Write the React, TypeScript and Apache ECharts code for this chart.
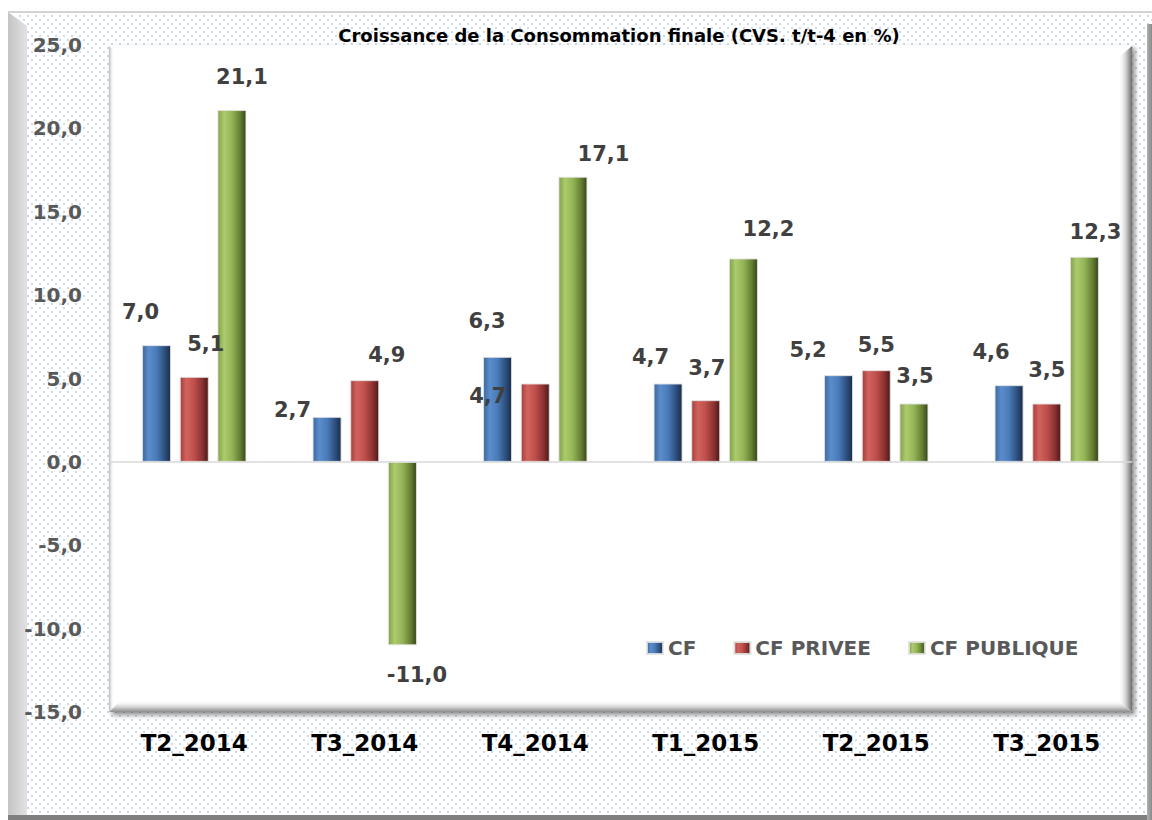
import React, { useEffect, useRef } from "react";
import * as echarts from "echarts";

const categories = ["T2_2014", "T3_2014", "T4_2014", "T1_2015", "T2_2015", "T3_2015"];
const seriesNames = ["CF", "CF PRIVEE", "CF PUBLIQUE"];
const cfValues = [7.0, 2.7, 6.3, 4.7, 5.2, 4.6];
const cfPriveeValues = [5.1, 4.9, 4.7, 3.7, 5.5, 3.5];
const cfPubliqueValues = [21.1, -11.0, 17.1, 12.2, 3.5, 12.3];
const yMin = -15;
const yMax = 25;
const yStep = 5;

// label placement tweaks (style only, in px)
const cfLabelShift = [[-16, -23], [-34.5, 3.5], [-10.5, -25], [-17.5, -15.6], [-30.5, -15], [-18, -23]];
const priveeLabelShift = [[11.5, -22], [22, -15], [-47.5, 23.4], [1, -22], [0, -15], [0, -22.6]];
const publiqueLabelShift = [[10, -23], [14.5, 19.6], [30.5, -12], [25, -18.6], [1, -16.6], [11, -14]];

const FONT = "DejaVu Sans";

function grad(stops: string[]) {
  const pos = [0, 0.22, 0.5, 0.8, 1];
  return new echarts.graphic.LinearGradient(
    0, 0, 1, 0,
    stops.map((c, i) => ({ offset: pos[i], color: c }))
  );
}

const seriesColors = [
  ["#3b679f", "#5b8dcc", "#4a7bb9", "#2c4d7b", "#1a2d49"],
  ["#a63f3c", "#d2625e", "#be4f4b", "#883130", "#4a1918"],
  ["#84a149", "#abcb6c", "#94b457", "#647d32", "#37451a"],
];

const fmt = (v: number) => v.toFixed(1).replace(".", ",");

function buildData(values: number[], shifts: number[][]) {
  return values.map((v, i) => ({
    value: v,
    label: {
      position: v < 0 ? "bottom" : "top",
      offset: shifts[i],
    },
  }));
}

export default function App() {
  const ref = useRef<HTMLDivElement>(null);

  useEffect(() => {
    document.body.style.margin = "0";
    if (!ref.current) return;
    const chart = echarts.init(ref.current, null, { renderer: "svg" });

    const valueSets = [cfValues, cfPriveeValues, cfPubliqueValues];
    const shiftSets = [cfLabelShift, priveeLabelShift, publiqueLabelShift];

    const series: any[] = valueSets.map((vals, si) => ({
      name: seriesNames[si],
      type: "bar",
      barWidth: 29,
      barGap: "30%",
      data: buildData(vals, shiftSets[si]),
      itemStyle: {
        color: grad(seriesColors[si]),
        borderColor: "rgba(225,225,225,0.9)",
        borderWidth: 1,
      },
      label: {
        show: true,
        distance: 0,
        formatter: (p: any) => fmt(p.value),
        color: "#404040",
        fontFamily: FONT,
        fontWeight: "bold",
        fontSize: 21,
      },
      z: 3,
    }));

    series[0].markLine = {
      silent: true,
      symbol: "none",
      label: { show: false },
      lineStyle: { color: "#d9d9d9", width: 1.5, type: "solid" },
      data: [{ yAxis: 0 }],
      z: 1,
    };

    chart.setOption({
      animation: false,
      backgroundColor: "transparent",
      title: {
        text: "Croissance de la Consommation finale (CVS. t/t-4 en %)",
        left: 614,
        top: 21,
        textAlign: "center",
        textStyle: {
          fontFamily: FONT,
          fontWeight: "bold",
          fontSize: 18,
          color: "#000",
        },
      },
      legend: {
        left: 641,
        top: 633,
        itemWidth: 16,
        itemHeight: 12,
        itemGap: 37,
        icon: "rect",
        data: seriesNames,
        textStyle: {
          fontFamily: FONT,
          fontWeight: "bold",
          fontSize: 20,
          color: "#595959",
        },
      },
      grid: {
        left: 109,
        right: 20,
        top: 45,
        bottom: 108,
        show: true,
        backgroundColor: "#ffffff",
        borderWidth: 0,
        shadowColor: "rgba(0,0,0,0.45)",
        shadowBlur: 5,
        shadowOffsetX: 3,
        shadowOffsetY: 3,
      },
      xAxis: {
        type: "category",
        data: categories,
        axisLine: { show: false },
        axisTick: { show: false },
        axisLabel: {
          margin: 19,
          color: "#000",
          fontFamily: FONT,
          fontWeight: "bold",
          fontSize: 23,
        },
      },
      yAxis: {
        type: "value",
        min: yMin,
        max: yMax,
        interval: yStep,
        axisLine: { show: false },
        axisTick: { show: false },
        splitLine: { show: false },
        axisLabel: {
          margin: 27,
          color: "#595959",
          fontFamily: FONT,
          fontWeight: "bold",
          fontSize: 20,
          formatter: (v: number) => fmt(v),
        },
      },
      graphic: [
        {
          type: "polygon",
          z: -10,
          shape: { points: [[8, 12], [27, 26], [27, 815], [8, 820]] },
          style: {
            fill: new echarts.graphic.LinearGradient(0, 0, 1, 0, [
              { offset: 0, color: "#c4c4c4" },
              { offset: 1, color: "#e2e2e2" },
            ]),
          },
        },
        {
          type: "line",
          z: -10,
          shape: { x1: 8, y1: 12, x2: 1152, y2: 12 },
          style: { stroke: "#d4d4d4", lineWidth: 2 },
        },
        {
          type: "rect",
          z: -10,
          shape: { x: 8, y: 815, width: 1144, height: 5 },
          style: { fill: "#7f7f7f" },
        },
        {
          type: "rect",
          z: -10,
          shape: { x: 1147, y: 24, width: 5, height: 796 },
          style: {
            fill: new echarts.graphic.LinearGradient(0, 0, 1, 0, [
              { offset: 0, color: "#b0b0b0" },
              { offset: 1, color: "#8a8a8a" },
            ]),
          },
        },
        {
          type: "polygon",
          z: 1,
          shape: { points: [[1118, 58], [1132, 46], [1132, 712], [1118, 700]] },
          style: {
            fill: new echarts.graphic.LinearGradient(0, 0, 1, 0, [
              { offset: 0, color: "rgba(255,255,255,0)" },
              { offset: 0.6, color: "#c8c8c8" },
              { offset: 1, color: "#6e6e6e" },
            ]),
          },
        },
        {
          type: "polygon",
          z: 1,
          shape: { points: [[121, 700], [1118, 700], [1132, 712], [109, 712]] },
          style: {
            fill: new echarts.graphic.LinearGradient(0, 0, 0, 1, [
              { offset: 0, color: "rgba(255,255,255,0)" },
              { offset: 0.6, color: "#cfcfcf" },
              { offset: 1, color: "#8c8c8c" },
            ]),
          },
        },
        {
          type: "polygon",
          z: 1,
          shape: { points: [[109, 46], [114, 50], [114, 706], [109, 712]] },
          style: {
            fill: new echarts.graphic.LinearGradient(0, 0, 1, 0, [
              { offset: 0, color: "#b8b8b8" },
              { offset: 1, color: "rgba(255,255,255,0)" },
            ]),
          },
        },
      ],
      series,
    });

    return () => chart.dispose();
  }, []);

  const dots =
    "radial-gradient(circle, #cbdaee 0.8px, rgba(255,255,255,0) 1.3px), radial-gradient(circle, #cbdaee 0.8px, rgba(255,255,255,0) 1.3px)";

  return (
    <div style={{ position: "relative", width: 1152, height: 820, background: "#fff" }}>
      <div
        style={{
          position: "absolute",
          left: 8,
          top: 12,
          width: 1144,
          height: 808,
          backgroundColor: "#ffffff",
          backgroundImage: dots,
          backgroundSize: "8px 8px",
          backgroundPosition: "0 0, 4px 4px",
        }}
      />
      <div ref={ref} style={{ position: "absolute", left: 0, top: 0, width: 1152, height: 820 }} />
    </div>
  );
}
